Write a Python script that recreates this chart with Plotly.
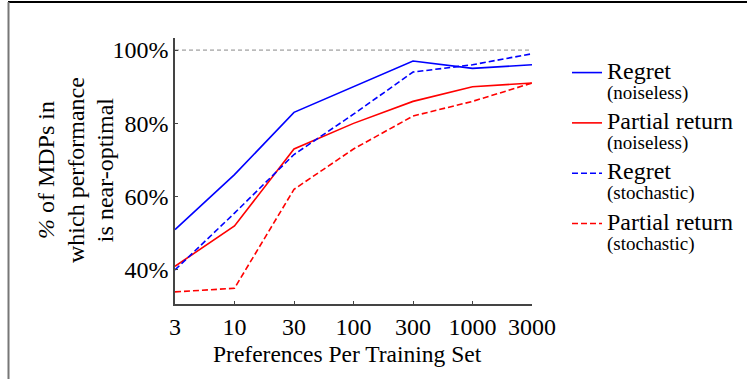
import plotly.graph_objects as go

categories = ["3", "10", "30", "100", "300", "1000", "3000"]
regret_noiseless = [51, 66, 83, 90, 97, 95, 96]
partial_noiseless = [41, 52, 73, 80, 86, 90, 91]
regret_stochastic = [40, 55.5, 71.5, 82.5, 94, 96, 99]
partial_stochastic = [34, 35, 62, 73, 82, 86, 91]
y_ticks = [40, 60, 80, 100]
y_tick_labels = ["40%", "60%", "80%", "100%"]

FONT = "Liberation Serif"
W, H = 747, 379
L, R, T, B = 175, 532, 38, 304


def px_x(p):
    return (p - L) / (R - L)


def px_y(p):
    return (B - p) / (B - T)


def nm(main, sub):
    return (f"<span style='font-size:24px'>{main}</span><br>"
            f"<span style='font-size:19px'>{sub}</span>")


fig = go.Figure()
series = [
    (regret_noiseless, "Regret", "(noiseless)", "#0000ff", "solid"),
    (partial_noiseless, "Partial return", "(noiseless)", "#ff0000", "solid"),
    (regret_stochastic, "Regret", "(stochastic)", "#0000ff", "6px,3px"),
    (partial_stochastic, "Partial return", "(stochastic)", "#ff0000", "6px,3px"),
]
for i, (vals, main, sub, col, dash) in enumerate(series):
    fig.add_trace(go.Scatter(
        x=categories, y=vals, mode="lines", name=nm(main, sub),
        legendgroup=f"g{i}",
        line=dict(color=col, width=1.6, dash=dash),
    ))

fig.add_shape(type="line", xref="paper", yref="y", x0=0, x1=1, y0=100, y1=100,
              line=dict(color="#888888", width=1, dash="4px,3px"), layer="below")

# frame lines (page border)
fig.add_shape(type="line", xref="paper", yref="paper", x0=px_x(8), x1=px_x(760),
              y0=px_y(2), y1=px_y(2), line=dict(color="#000000", width=2))
fig.add_shape(type="line", xref="paper", yref="paper", x0=px_x(8.5), x1=px_x(8.5),
              y0=px_y(2), y1=px_y(390), line=dict(color="#777777", width=2))

ytitle = "<br>".join(f"<span style='font-size:24px'>{s}</span>" for s in
                     ["<i>%</i> of MDPs in", "which performance", "is near-optimal"])
fig.add_annotation(text=ytitle,
                   xref="paper", yref="paper", x=px_x(75), y=px_y(170),
                   xanchor="center", yanchor="middle",
                   textangle=-90, showarrow=False,
                   font=dict(family=FONT, size=22.7, color="#000"))
fig.add_annotation(text="Preferences Per Training Set",
                   xref="paper", yref="paper", x=px_x(347), y=px_y(354),
                   xanchor="center", yanchor="middle",
                   showarrow=False, font=dict(family=FONT, size=23.5, color="#000"))

fig.update_layout(
    width=W, height=H,
    margin=dict(l=L, r=W - R, t=T, b=H - B, autoexpand=False),
    paper_bgcolor="white", plot_bgcolor="white",
    font=dict(family=FONT, color="#000"),
    showlegend=True,
    legend=dict(x=px_x(567), y=px_y(56), xanchor="left", yanchor="top",
                font=dict(family=FONT, size=15.5, color="#000"),
                valign="top", itemwidth=30, tracegroupgap=7,
                bgcolor="rgba(0,0,0,0)"),
    xaxis=dict(type="category", range=[0, 6], showgrid=False, zeroline=False,
               showline=True, linecolor="#444", linewidth=1.5,
               ticks="inside", ticklen=3, tickcolor="#444",
               tickfont=dict(family=FONT, size=24, color="#000")),
    yaxis=dict(range=[30.7, 103.3], tickvals=y_ticks, ticktext=y_tick_labels,
               showgrid=False, zeroline=False,
               showline=True, linecolor="#444", linewidth=1.5,
               ticks="inside", ticklen=3, tickcolor="#444",
               tickfont=dict(family=FONT, size=24, color="#000")),
)

fig.write_html("out.html")
